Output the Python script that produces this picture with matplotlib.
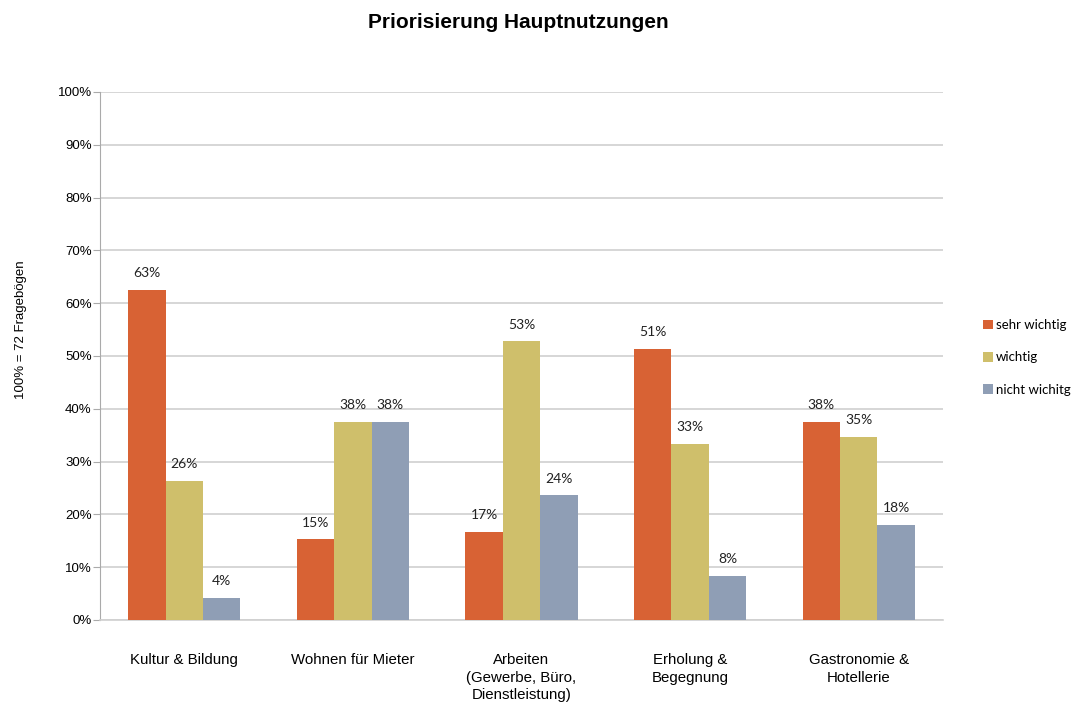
import numpy as np
import matplotlib.pyplot as plt

# Antworten pro Nutzung (Anzahl Fragebögen, 72 = 100%)
total = 72
categories = ["Kultur & Bildung", "Wohnen für Mieter", "Arbeiten\n(Gewerbe, Büro,\nDienstleistung)",
              "Erholung &\nBegegnung", "Gastronomie &\nHotellerie"]
sehr_wichtig = [45, 11, 12, 37, 27]
wichtig = [19, 27, 38, 24, 25]
nicht_wichtig = [3, 27, 17, 6, 13]
series_names = ["sehr wichtig", "wichtig", "nicht wichitg"]
colors = ["#d86234", "#cfbf6b", "#8f9eb5"]

fig = plt.figure(figsize=(10.71, 7.02), dpi=100)
ax = fig.add_axes([100 / 1071, 82 / 702, 843 / 1071, 528 / 702])

x = np.arange(len(categories))
w = 0.222
handles = []
for i, (vals, name, c) in enumerate(zip([sehr_wichtig, wichtig, nicht_wichtig], series_names, colors)):
    pct = np.array(vals) / total * 100
    bars = ax.bar(x + (i - 1) * w, pct, width=w, color=c, label=name, zorder=3)
    handles.append(bars)
    for xi, p in zip(x + (i - 1) * w, pct):
        ax.text(xi, p + 2.0, f"{int(p + 0.5)}%", ha="center", va="bottom",
                fontsize=10, family="Lato", color="#222222")

ax.set_xlim(-0.5, len(categories) - 0.5)
ax.set_ylim(0, 100)
ax.set_yticks(range(0, 101, 10))
ax.set_yticklabels([f"{v}%" for v in range(0, 101, 10)], family="Liberation Sans", fontsize=9.5)
ax.set_xticks(x)
ax.set_xticklabels(categories, family="Liberation Sans", fontsize=10.8, linespacing=1.3, va="top")
ax.tick_params(axis="x", length=0, pad=24)
ax.tick_params(axis="y", length=5, color="#aaaaaa", pad=1)
ax.grid(axis="y", color="#d0d0d0", linewidth=1.2, zorder=0)
for s in ["top", "right"]:
    ax.spines[s].set_visible(False)
ax.spines["left"].set_color("#aaaaaa")
ax.spines["bottom"].set_color("#d0d0d0")
ax.spines["bottom"].set_linewidth(1.2)

ax.set_ylabel("100% = 72 Fragebögen", family="Liberation Sans", fontsize=9.5)
ax.yaxis.set_label_coords(-0.087, 0.55)

fig.text(518 / 1071, 1 - 22 / 702, "Priorisierung Hauptnutzungen", ha="center", va="center",
         family="Liberation Sans", fontsize=15, fontweight="bold")

leg = fig.legend(handles=handles, labels=series_names, loc="upper left",
                 bbox_to_anchor=(979 / 1071, 1 - 315 / 702), frameon=False,
                 prop={"family": "Lato", "size": 9.5}, handlelength=0.75, handleheight=0.75,
                 handletextpad=0.25, labelspacing=1.55, borderaxespad=0, borderpad=0.3)

fig.savefig("out.png", dpi=100)
